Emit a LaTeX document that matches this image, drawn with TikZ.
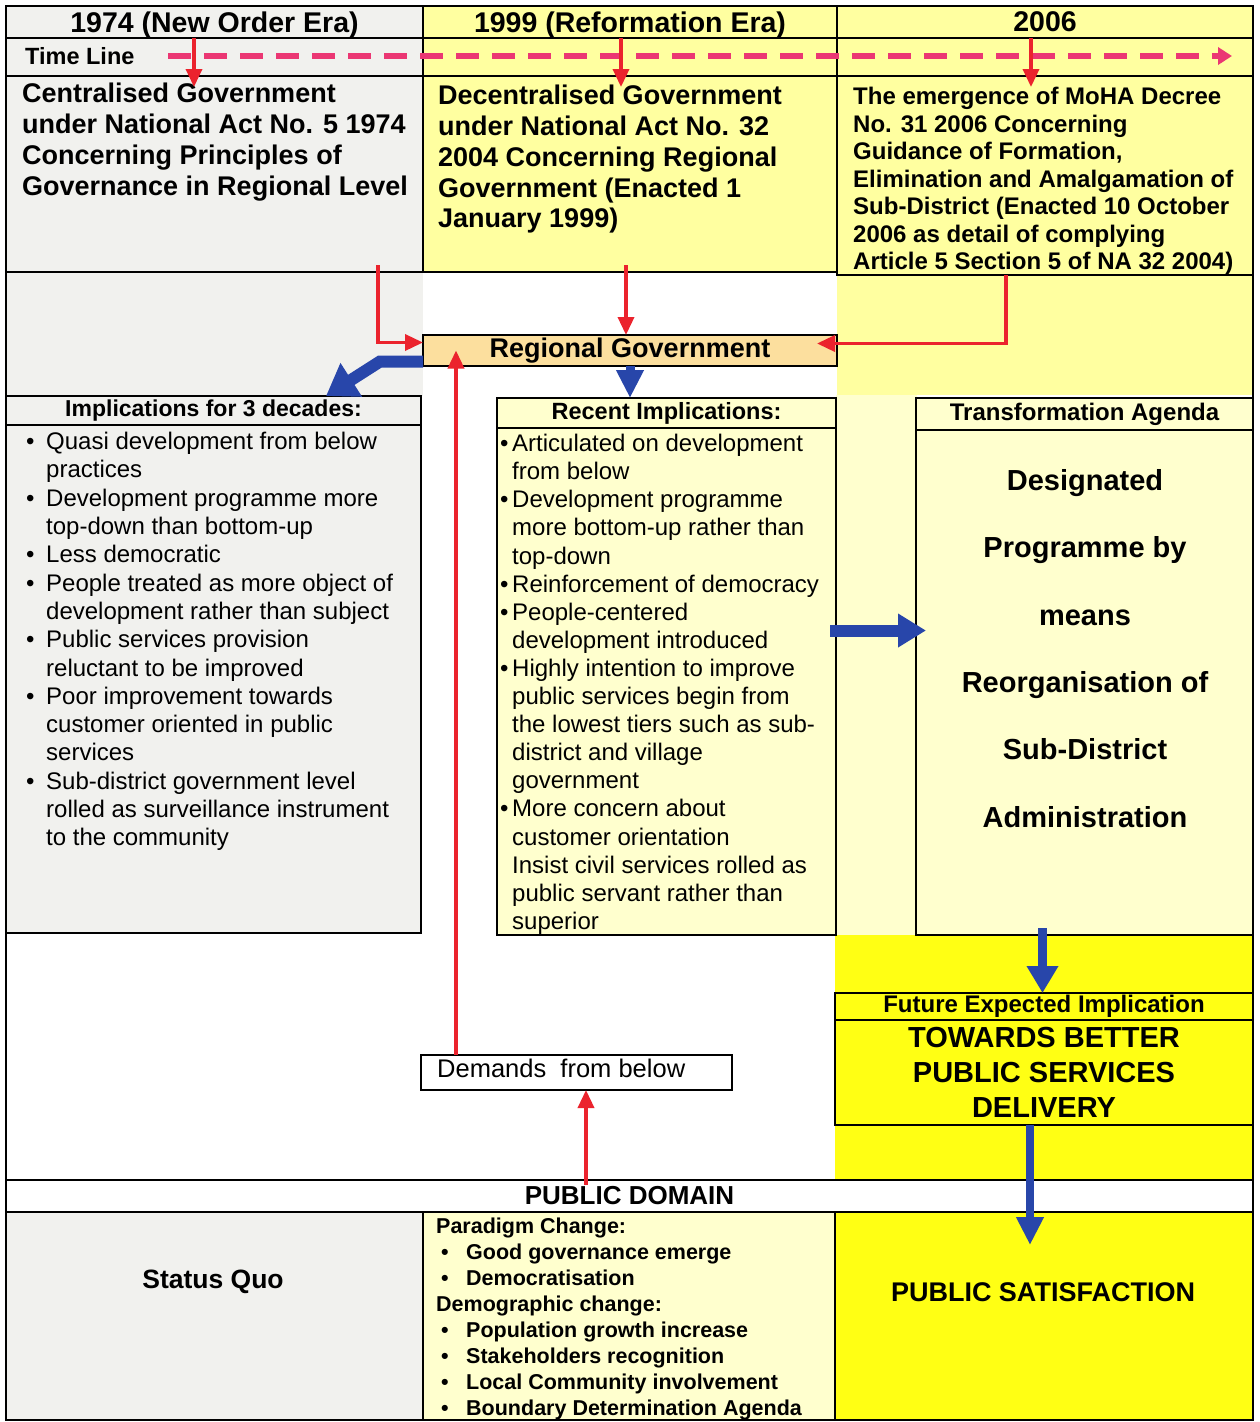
\documentclass[tikz,border=0pt]{standalone}
\usepackage{fontspec}
\setmainfont{Liberation Sans}
\usetikzlibrary{positioning,arrows.meta,calc}

\definecolor{greycell}{RGB}{241,241,238}
\definecolor{paleyellow}{RGB}{255,255,160}
\definecolor{creamyellow}{RGB}{255,255,206}
\definecolor{brightyellow}{RGB}{255,255,20}
\definecolor{arrowblue}{RGB}{40,70,170}
\definecolor{arrowred}{RGB}{235,35,45}
\definecolor{timepink}{RGB}{235,55,115}
\definecolor{govfill}{RGB}{252,223,158}

\tikzstyle{cell} = [draw=black, line width=1.2pt, inner sep=0, outer sep=0, anchor=north west]
\tikzstyle{txt} = [inner sep=0, anchor=north west, align=left]
\tikzstyle{redarr} = [draw=arrowred, line width=3.5pt, -{Triangle[length=18pt,width=16pt]}]
\tikzstyle{bluearr} = [draw=arrowblue, line width=9pt, -{Triangle[length=27pt,width=30pt]}]
\tikzstyle{timeline} = [draw=timepink, line width=6pt, dash pattern=on 23pt off 13pt, -{Triangle[length=14pt,width=17pt]}]

\newcommand{\fsz}[2]{\fontsize{#1}{#2}\selectfont}
\newcommand{\bitem}[2][0pt]{\makebox[#2][l]{\hspace*{#1}\textbullet}}
\newcommand{\leftbul}{\bitem[2pt]{22pt}}
\newcommand{\leftind}{\hspace*{22pt}}
\newcommand{\midbul}{\bitem{12pt}}
\newcommand{\midind}{\hspace*{12pt}}
\newcommand{\botbul}{\bitem[5pt]{30pt}}

\begin{document}
\begin{tikzpicture}[x=1pt,y=-1pt]
\useasboundingbox (0,0) rectangle (1260,1422);

%Background
\fill[white] (0,0) rectangle (1260,1422);
\fill[greycell] (6,272) rectangle (423,396);
\fill[paleyellow] (837,272) rectangle (1253,395);
\fill[creamyellow] (836,395) rectangle (917,935);
\fill[brightyellow] (835,935) rectangle (1253,1180);

%Header row
\node[cell, fill=greycell, minimum width=417, minimum height=32, text depth=0pt, font=\fsz{28.5}{32}\bfseries] (h1974) at (6,6) {1974 (New Order Era)};
\node[cell, fill=paleyellow, minimum width=414, minimum height=32, text depth=0pt, font=\fsz{28.5}{32}\bfseries] (h1999) at (423,6) {1999 (Reformation Era)};
\node[cell, fill=paleyellow, minimum width=416, minimum height=32, text depth=0pt, font=\fsz{28.5}{32}\bfseries] (h2006) at (837,6) {2006};

%Time line row
\node[cell, fill=greycell, minimum width=417, minimum height=38] (tl74) at (6,38) {};
\node[cell, fill=paleyellow, minimum width=414, minimum height=38] (tl99) at (423,38) {};
\node[cell, fill=paleyellow, minimum width=416, minimum height=38] (tl06) at (837,38) {};
\node[anchor=west, inner sep=0, font=\fsz{23.5}{28}\bfseries] (tltxt) at (25,56) {Time Line};

%Acts
\node[cell, fill=greycell, minimum width=417, minimum height=196] (c74) at (6,76) {};
\node[cell, fill=paleyellow, minimum width=414, minimum height=196] (c99) at (423,76) {};
\node[cell, fill=paleyellow, minimum width=416, minimum height=199] (c06) at (837,76) {};
\node[txt, font=\fsz{27}{31}\bfseries] (c74txt) at (22,83) {Centralised Government\\under National Act No. 5 1974\\Concerning Principles of\\Governance in Regional Level};
\node[txt, font=\fsz{27}{30.8}\bfseries] (c99txt) at (438,85) {Decentralised Government\\under National Act No. 32\\2004 Concerning Regional\\Government (Enacted 1\\January 1999)};
\node[txt, font=\fsz{24}{27.5}\bfseries] (c06txt) at (853,87) {The emergence of MoHA Decree\\No. 31 2006 Concerning\\Guidance of Formation,\\Elimination and Amalgamation of\\Sub-District (Enacted 10 October\\2006 as detail of complying\\Article 5 Section 5 of NA 32 2004)};

\node[cell, fill=govfill, minimum width=414, minimum height=31, font=\fsz{27}{31}\bfseries] (regov) at (423,335) {Regional Government};

%Implications
\node[cell, fill=greycell, minimum width=415, minimum height=29, font=\fsz{23}{27}\bfseries] (imphd) at (6,396) {Implications for 3 decades:};
\node[cell, fill=greycell, minimum width=415, minimum height=508] (impbody) at (6,425) {};
\node[txt, font=\fsz{24}{28.3}] (implist) at (24,432) {\leftbul Quasi development from below\\
\leftind practices\\
\leftbul Development programme more\\
\leftind top-down than bottom-up\\
\leftbul Less democratic\\
\leftbul People treated as more object of\\
\leftind development rather than subject\\
\leftbul Public services provision\\
\leftind reluctant to be improved\\
\leftbul Poor improvement towards\\
\leftind customer oriented in public\\
\leftind services\\
\leftbul Sub-district government level\\
\leftind rolled as surveillance instrument\\
\leftind to the community};

\node[cell, fill=creamyellow, minimum width=339, minimum height=30, font=\fsz{23.5}{27}\bfseries] (rechd) at (497,398) {Recent Implications:};
\node[cell, fill=creamyellow, minimum width=339, minimum height=507] (recbody) at (497,428) {};
\node[txt, font=\fsz{24}{28.1}] (reclist) at (500,434) {\midbul Articulated on development\\
\midind from below\\
\midbul Development programme\\
\midind more bottom-up rather than\\
\midind top-down\\
\midbul Reinforcement of democracy\\
\midbul People-centered\\
\midind development introduced\\
\midbul Highly intention to improve\\
\midind public services begin from\\
\midind the lowest tiers such as sub-\\
\midind district and village\\
\midind government\\
\midbul More concern about\\
\midind customer orientation\\
\midind Insist civil services rolled as\\
\midind public servant rather than\\
\midind superior};

\node[cell, fill=creamyellow, minimum width=337, minimum height=32, font=\fsz{24}{28}\bfseries] (trfhd) at (916,398) {Transformation Agenda};
\node[cell, fill=creamyellow, minimum width=337, minimum height=505] (trfbody) at (916,430) {};
\node[inner sep=0, anchor=north, align=center, font=\fsz{29}{67.4}\bfseries] (trftxt) at (1085,469) {Designated\\Programme by\\means\\Reorganisation of\\Sub-District\\Administration};

%Future
\node[cell, fill=brightyellow, minimum width=418, minimum height=27, font=\fsz{24}{27}\bfseries] (futhd) at (835,993) {Future Expected Implication};
\node[cell, fill=brightyellow, minimum width=418, minimum height=105, align=center, font=\fsz{29}{35}\bfseries] (futbody) at (835,1020) {TOWARDS BETTER\\PUBLIC SERVICES\\DELIVERY};

\node[cell, fill=white, minimum width=311, minimum height=35] (demand) at (421,1055) {};
\node[anchor=west, inner sep=0, font=\fsz{25.5}{29}] (demtxt) at (437,1068) {Demands\ \ from below};

%Public domain
\node[cell, fill=white, minimum width=1247, minimum height=32, font=\fsz{26}{30}\bfseries] (pubdom) at (6,1180) {PUBLIC DOMAIN};
\node[cell, fill=greycell, minimum width=417, minimum height=208] (squo) at (6,1212) {};
\node[inner sep=0, font=\fsz{26.5}{30}\bfseries] (squotxt) at (213,1282) {Status Quo};
\node[cell, fill=creamyellow, minimum width=412, minimum height=208] (paradigm) at (423,1212) {};
\node[txt, font=\fsz{21.5}{25.9}\bfseries] (paratxt) at (436,1218) {Paradigm Change:\\
\botbul Good governance emerge\\
\botbul Democratisation\\
Demographic change:\\
\botbul Population growth increase\\
\botbul Stakeholders recognition\\
\botbul Local Community involvement\\
\botbul Boundary Determination Agenda};
\node[cell, fill=brightyellow, minimum width=418, minimum height=208] (sat) at (835,1212) {};
\node[inner sep=0, font=\fsz{27}{31}\bfseries] (sattxt) at (1043,1292) {PUBLIC SATISFACTION};

\draw[line width=1.2pt] (6,6) rectangle (1253,1420);

%Connections
\coordinate (tlstart) at (168,56);
\coordinate (tlend) at (1232,56);
\draw[timeline] (tlstart) -- (tlend);

\coordinate (t74) at ($(h1974.south west)+(188,0)$);
\coordinate (t99) at ($(h1999.south west)+(198,0)$);
\coordinate (t06) at ($(h2006.south west)+(194,0)$);
\foreach \t in {t74,t99,t06}
  \draw[redarr] (\t) -- ($(\t)+(0,49)$);

\coordinate (f74) at (378,265);
\coordinate (f99) at (626,265);
\coordinate (f06) at (1006,275);
\draw[redarr] (f74) |- ($(regov.west)+(0,-8)$);
\draw[redarr] (f99) -- (f99 |- regov.north);
\draw[redarr] (f06) |- ($(regov.east)+(-20,-7)$);

\coordinate (dmfoot) at ($(demand.north west)+(35,0)$);
\draw[redarr] (dmfoot) -- (dmfoot |- regov.center);
\coordinate (pdfoot) at ($(pubdom.north west)+(580,5)$);
\draw[redarr] (pdfoot) -- (pdfoot |- demand.south);

\draw[bluearr, line width=12pt, -{Triangle[length=30pt,width=38pt]}] ($(regov.west)+(0,11)$) -- ++(-43,0) -- ($(imphd.north west)+(320,0)$);
\draw[bluearr, -{Triangle[length=28pt,width=26pt]}] (regov.south) -- (regov.south |- rechd.north);
\coordinate (rarr) at ($(recbody.east)+(-6,-51)$);
\draw[bluearr, line width=12pt, -{Triangle[length=28pt,width=32pt]}] (rarr) -- ($(rarr -| trfbody.west)+(10,0)$);
\coordinate (tdown) at ($(trfbody.south)+(-42,-7)$);
\draw[bluearr] (tdown) -- (tdown |- futhd.north);
\coordinate (fdown) at ($(futbody.south)+(-14,0)$);
\draw[bluearr, line width=8pt, -{Triangle[length=28pt,width=26pt]}] (fdown) -- ($(fdown |- sat.north)+(0,33)$);

\end{tikzpicture}
\end{document}
